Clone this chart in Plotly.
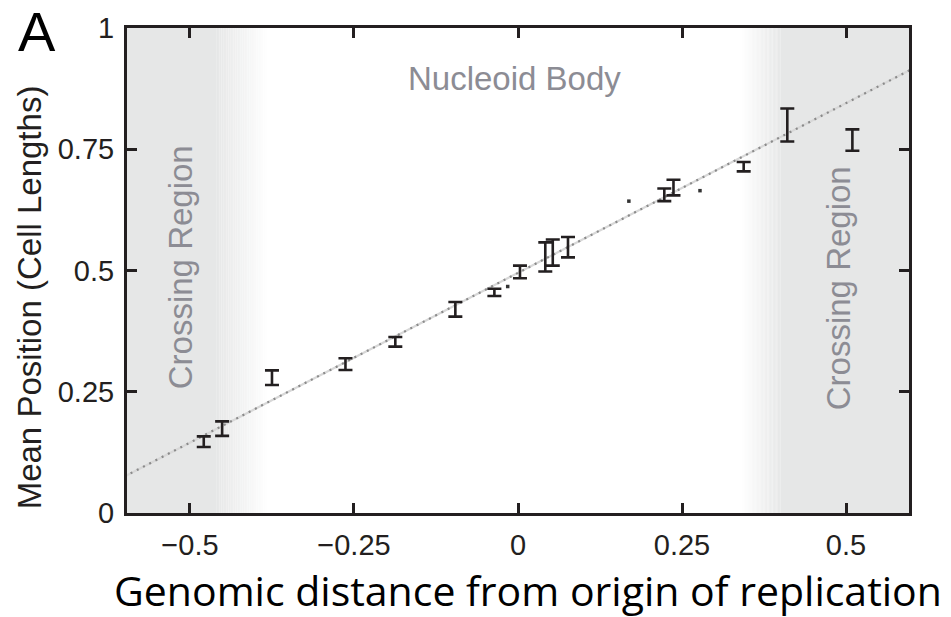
import plotly.graph_objects as go

# ---- data ----
x_pos = [-0.479, -0.451, -0.375, -0.263, -0.187, -0.0955, -0.036, 0.003,
         0.0416, 0.053, 0.0762, 0.223, 0.237, 0.344, 0.4105, 0.5097]
y_mean = [0.147, 0.174, 0.279, 0.307, 0.353, 0.420, 0.455, 0.497,
          0.528, 0.537, 0.548, 0.656, 0.671, 0.714, 0.800, 0.769]
y_err = [0.011, 0.015, 0.015, 0.012, 0.010, 0.015, 0.0075, 0.013,
         0.030, 0.027, 0.021, 0.013, 0.016, 0.0096, 0.034, 0.022]

dot_x = [-0.0157, 0.169, 0.2774]
dot_y = [0.467, 0.643, 0.6646]

fit_x = [-0.6, 0.6]
fit_y = [0.0752, 0.915]

x_ticks = [-0.5, -0.25, 0, 0.25, 0.5]
x_tick_labels = ["\u22120.5", "\u22120.25", "0", "0.25", "0.5"]
y_ticks = [0, 0.25, 0.5, 0.75, 1]
y_tick_labels = ["0", "0.25", "0.5", "0.75", "1"]

X_RANGE = [-0.596, 0.596]
DARK = "#231f20"
GRAY_BG = (230, 231, 231)
TEXT_GRAY = "#8c8c94"

fig = go.Figure()

# fitted line: light gray base with darker dots
fig.add_trace(go.Scatter(x=fit_x, y=fit_y, mode="lines",
                         line=dict(color="#d8d8d8", width=2.2),
                         hoverinfo="skip", showlegend=False))
fig.add_trace(go.Scatter(x=fit_x, y=fit_y, mode="lines",
                         line=dict(color="#8a8a8a", width=2.2, dash="2px,5px"),
                         hoverinfo="skip", showlegend=False))

# error bars
fig.add_trace(go.Scatter(
    x=x_pos, y=y_mean, mode="markers",
    marker=dict(size=1, color="rgba(0,0,0,0)"),
    error_y=dict(type="data", array=y_err, visible=True,
                 color=DARK, thickness=2.6, width=7),
    showlegend=False))

# isolated dots
fig.add_trace(go.Scatter(
    x=dot_x, y=dot_y, mode="markers",
    marker=dict(size=3.5, color="#333333", symbol="square"),
    showlegend=False))

# shaded "crossing" regions with gradient edges
shapes = []


def col(t):
    # t=1 -> gray, t=0 -> white
    r = round(255 + (GRAY_BG[0] - 255) * t)
    g = round(255 + (GRAY_BG[1] - 255) * t)
    b = round(255 + (GRAY_BG[2] - 255) * t)
    return f"rgb({r},{g},{b})"


def rect(x0, x1, c):
    return dict(type="rect", xref="x", yref="paper", x0=x0, x1=x1, y0=0, y1=1,
                fillcolor=c, line=dict(width=0), layer="below")


left_solid_end, left_white = -0.46, -0.38
right_white, right_solid_start = 0.34, 0.40
shapes.append(rect(X_RANGE[0], left_solid_end, col(1)))
shapes.append(rect(right_solid_start, X_RANGE[1], col(1)))
N = 30
for i in range(N):
    a = left_solid_end + (left_white - left_solid_end) * i / N
    b = left_solid_end + (left_white - left_solid_end) * (i + 1) / N
    shapes.append(rect(a, b, col(1 - (i + 0.5) / N)))
    a2 = right_white + (right_solid_start - right_white) * i / N
    b2 = right_white + (right_solid_start - right_white) * (i + 1) / N
    shapes.append(rect(a2, b2, col((i + 0.5) / N)))

annotations = [
    dict(text="Nucleoid Body", x=-0.005, y=0.895, xref="x", yref="y",
         showarrow=False, font=dict(family="Liberation Sans, Arial", size=33, color=TEXT_GRAY)),
    dict(text="Crossing Region", x=-0.515, y=0.507, xref="x", yref="y",
         textangle=-90, showarrow=False,
         font=dict(family="Liberation Sans, Arial", size=33, color=TEXT_GRAY)),
    dict(text="Crossing Region", x=0.489, y=0.463, xref="x", yref="y",
         textangle=-90, showarrow=False,
         font=dict(family="Liberation Sans, Arial", size=33, color=TEXT_GRAY)),
    dict(text="A", x=(37 - 127) / 782, y=(513 - 29) / 488, xref="paper", yref="paper",
         showarrow=False, xanchor="center", yanchor="middle",
         font=dict(family="Liberation Sans, Arial", size=56, color="#000000")),
    dict(text="Mean Position (Cell Lengths)", x=(29 - 127) / 782, y=(513 - 296) / 488,
         xref="paper", yref="paper", textangle=-90, showarrow=False,
         xanchor="center", yanchor="middle",
         font=dict(family="Liberation Sans, Arial", size=33, color=DARK)),
    dict(text="Genomic distance from origin of replication",
         x=(528 - 127) / 782, y=(513 - 590) / 488, xref="paper", yref="paper",
         showarrow=False, xanchor="center", yanchor="middle",
         font=dict(family="Open Sans, Noto Sans", size=41, color="#000000")),
]

axis_common = dict(showgrid=False, zeroline=False, showline=True, linewidth=3,
                   linecolor=DARK, mirror="allticks", ticks="inside", ticklen=10,
                   tickwidth=3, tickcolor=DARK,
                   tickfont=dict(family="Liberation Sans, Arial", size=29, color=DARK))

fig.update_layout(
    width=951, height=617,
    margin=dict(l=127, r=42, t=25, b=104),
    paper_bgcolor="white", plot_bgcolor="white",
    xaxis=dict(range=X_RANGE, tickmode="array", tickvals=x_ticks,
               ticktext=x_tick_labels, ticklabelstandoff=4, **axis_common),
    yaxis=dict(range=[0, 1], tickmode="array", tickvals=y_ticks,
               ticktext=y_tick_labels, ticklabelstandoff=4, **axis_common),
    shapes=shapes, annotations=annotations, showlegend=False,
)

fig.write_html("out.html")
